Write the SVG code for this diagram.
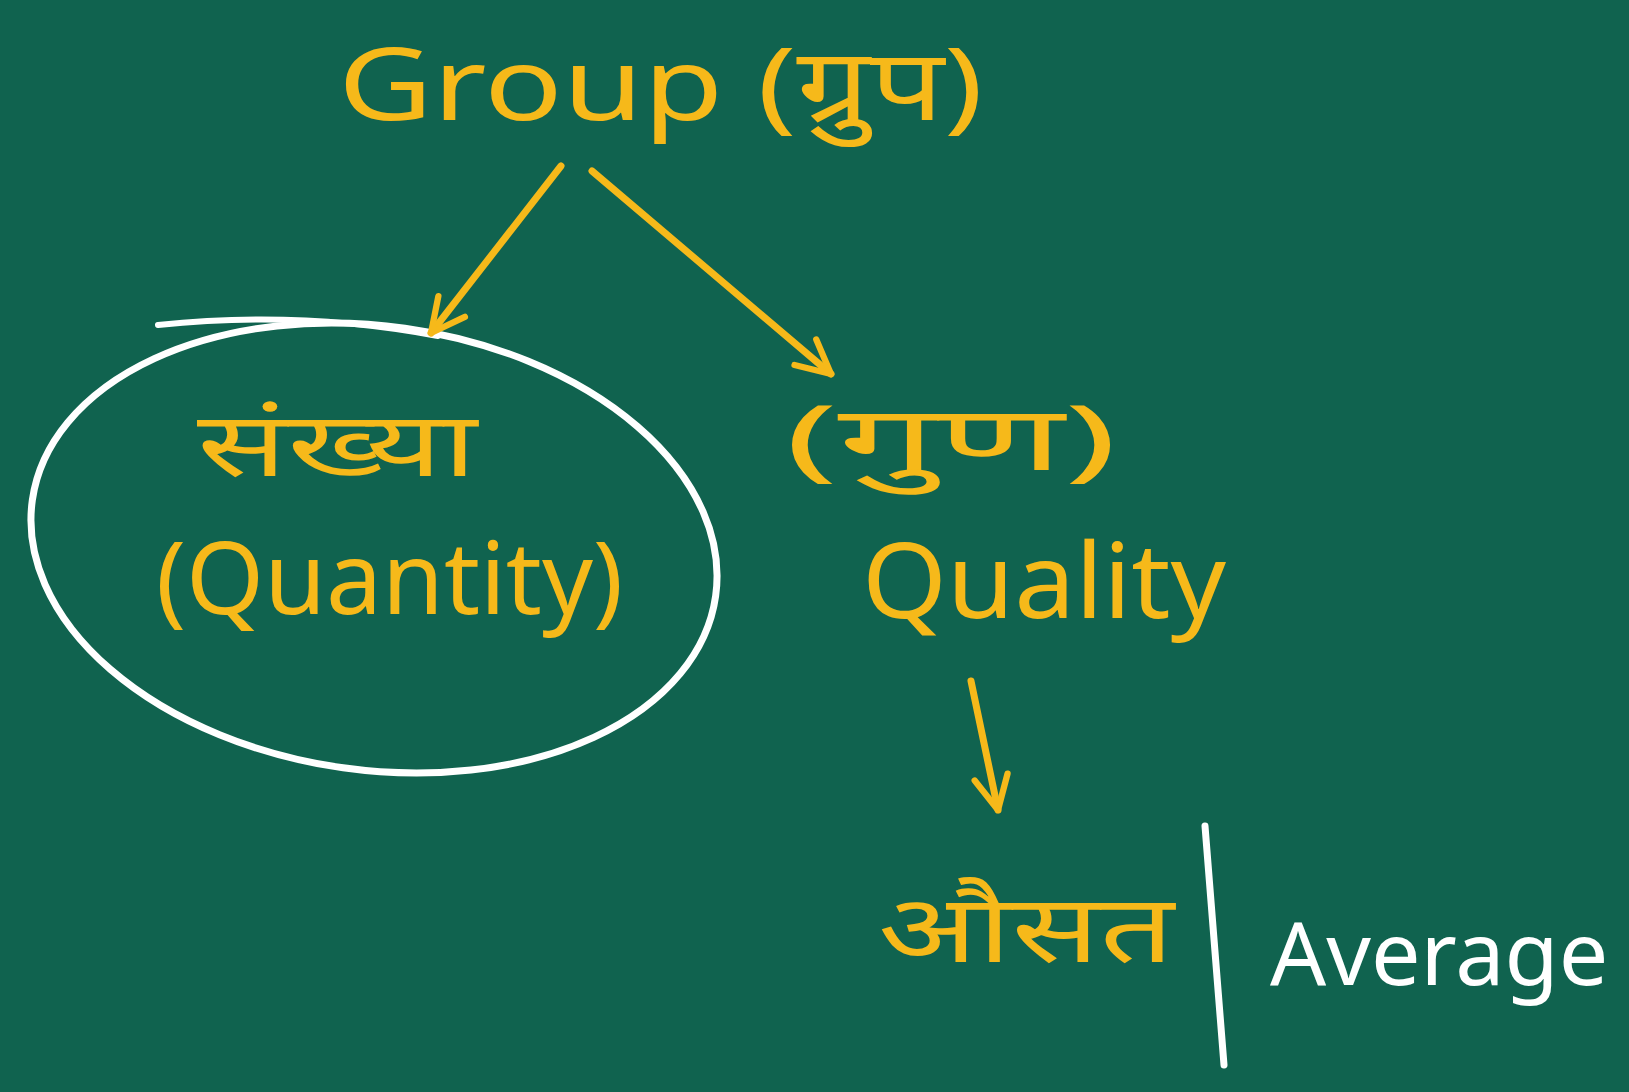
<svg xmlns="http://www.w3.org/2000/svg" width="1629" height="1092" viewBox="0 0 1629 1092">
<style>
.y{fill:#f6b91a;font-family:"Noto Sans","Liberation Sans","DejaVu Sans",sans-serif;}
.w{fill:#ffffff;font-family:"Noto Sans","Liberation Sans","DejaVu Sans",sans-serif;}
.c{stroke:#f6b91a;stroke-width:7;fill:none;stroke-linecap:round;}
</style>
<defs>
<marker id="ah" viewBox="0 0 20 20" refX="18" refY="10" markerWidth="6" markerHeight="6" orient="auto" markerUnits="strokeWidth">
<polyline points="2,2 18,10 2,18" fill="none" stroke="#f6b91a" stroke-width="3" stroke-linecap="round" stroke-linejoin="round"/>
</marker>
</defs>
<rect width="1629" height="1092" fill="#10634f"/>
<g id="group">
<text class="y" x="338" y="120" font-size="100" textLength="645" lengthAdjust="spacingAndGlyphs">Group (ग्रुप)</text>
</g>
<g id="quantity">
<ellipse cx="374" cy="548" rx="345" ry="222" transform="rotate(8 374 548)" fill="none" stroke="#ffffff" stroke-width="7"/>
<path d="M158 325 Q300 310 438 336" fill="none" stroke="#ffffff" stroke-width="6" stroke-linecap="round"/>
<text class="y" x="197" y="476" font-size="90" textLength="280" lengthAdjust="spacingAndGlyphs">संख्या</text>
<text class="y" x="156" y="614" font-size="100" textLength="467" lengthAdjust="spacingAndGlyphs">(Quantity)</text>
</g>
<g id="quality">
<text class="y" x="785" y="470" font-size="90" textLength="332" lengthAdjust="spacingAndGlyphs">(गुण)</text>
<text class="y" x="862" y="618" font-size="105" textLength="364" lengthAdjust="spacingAndGlyphs">Quality</text>
</g>
<g id="average">
<text class="y" x="878" y="962" font-size="95" textLength="296" lengthAdjust="spacingAndGlyphs">औसत</text>
<line x1="1205" y1="826" x2="1224" y2="1065" stroke="#ffffff" stroke-width="7" stroke-linecap="round"/>
<text class="w" x="1270" y="985" font-size="88">Average</text>
</g>
<g id="connectors">
<line class="c" x1="561" y1="166" x2="431" y2="333" marker-end="url(#ah)"/>
<line class="c" x1="592" y1="171" x2="831" y2="374" marker-end="url(#ah)"/>
<line class="c" x1="971" y1="681" x2="998" y2="810" marker-end="url(#ah)"/>
</g>
</svg>
